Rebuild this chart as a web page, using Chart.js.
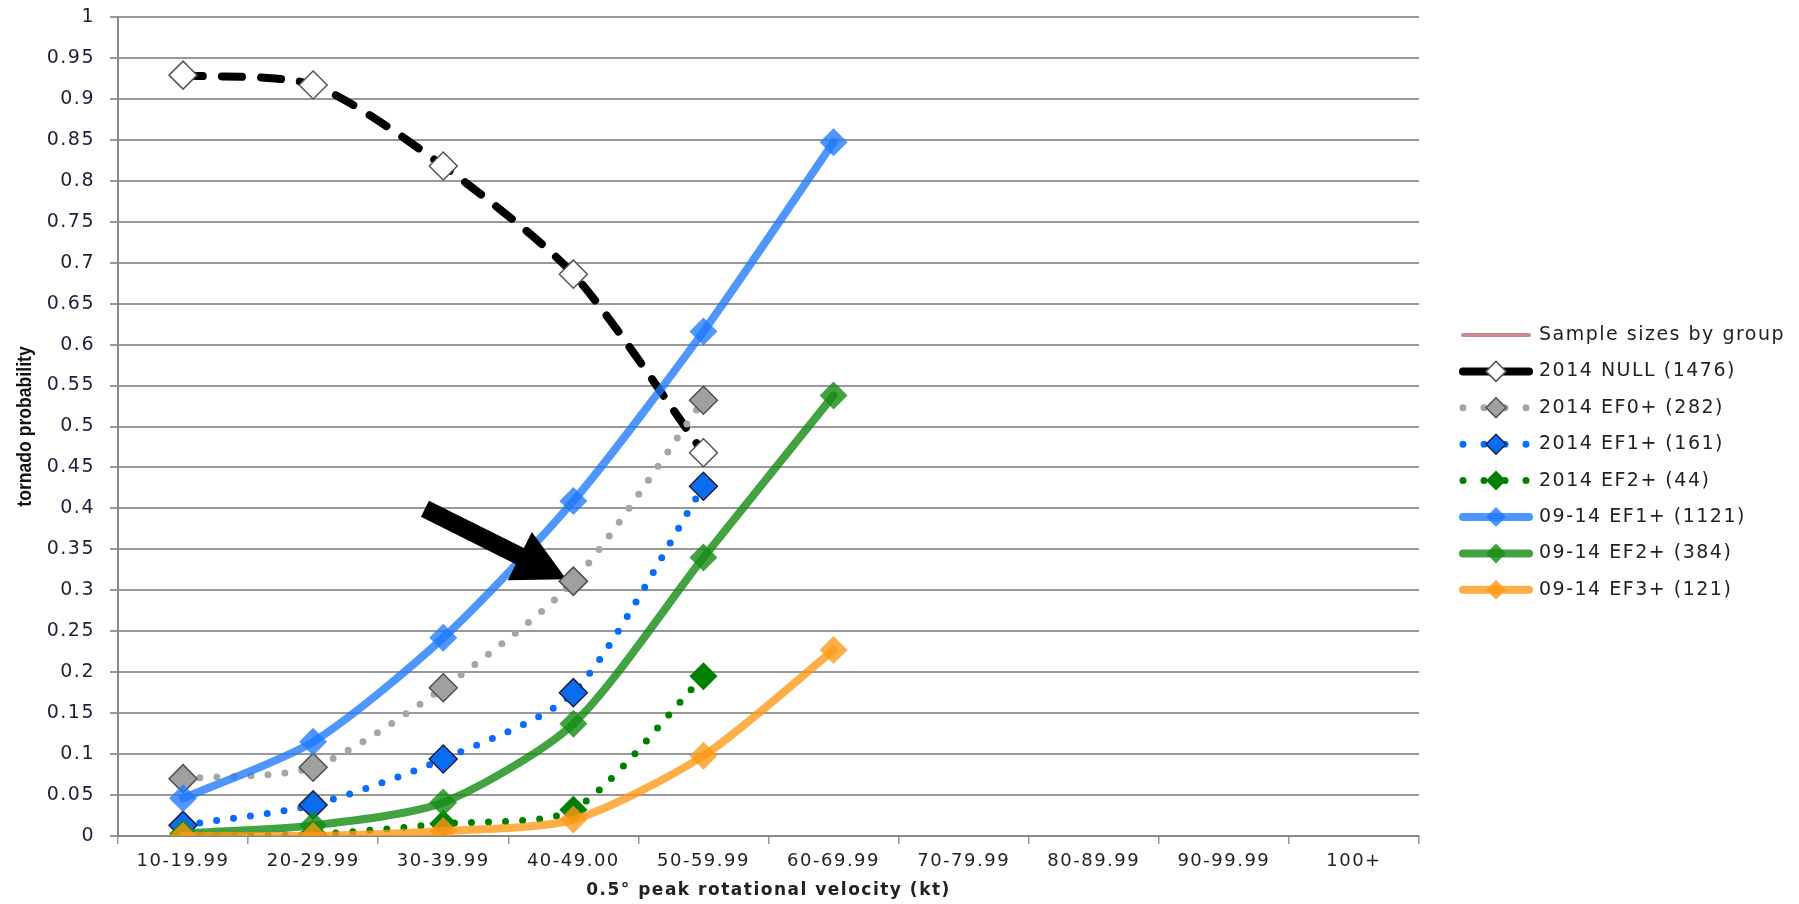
<!DOCTYPE html>
<html>
<head>
<meta charset="utf-8">
<script src="https://cdn.jsdelivr.net/npm/chart.js@4/dist/chart.umd.min.js"></script>
<style>
html, body { margin: 0; background: #fff; }
#wrap { width: 1799px; height: 904px; }
</style>
</head>
<body>
<div id="wrap"><canvas id="tornado"></canvas></div>
<script>
// velocity bins on the x axis
var categories = ['10-19.99', '20-29.99', '30-39.99', '40-49.00', '50-59.99',
                  '60-69.99', '70-79.99', '80-89.99', '90-99.99', '100+'];

// tornado probability per bin
var sampleSizes = [];
var null2014 = [0.929, 0.917, 0.818, 0.686, 0.468];
var ef0_2014 = [0.070, 0.084, 0.181, 0.311, 0.532];
var ef1_2014 = [0.013, 0.038, 0.094, 0.175, 0.427];
var ef2_2014 = [0.001, 0.002, 0.015, 0.032, 0.195];
var ef1_0914 = [0.046, 0.115, 0.242, 0.409, 0.616, 0.847];
var ef2_0914 = [0.003, 0.013, 0.041, 0.137, 0.340, 0.538];
var ef3_0914 = [0.000, 0.000, 0.006, 0.020, 0.098, 0.227];

var labels = ['Sample sizes by group', '2014 NULL (1476)', '2014 EF0+ (282)', '2014 EF1+ (161)',
              '2014 EF2+ (44)', '09-14 EF1+ (1121)', '09-14 EF2+ (384)', '09-14 EF3+ (121)'];

var dotted = [0, 17];

function series(label, data, line, width, dash, fill, border, radius) {
    return {
        label: label,
        data: data,
        borderColor: line,
        borderWidth: width,
        borderDash: dash,
        borderCapStyle: 'round',
        borderJoinStyle: 'round',
        tension: 0.25,
        pointStyle: 'rectRot',
        pointRadius: radius,
        pointBackgroundColor: fill,
        pointBorderColor: border,
        pointBorderWidth: border ? 1.5 : 0
    };
}

var datasets = [
    series(labels[0], sampleSizes, '#c98a90', 4, [], null, null, 0),
    series(labels[1], null2014, '#000000', 8, [20, 19], '#ffffff', '#555555', 14),
    series(labels[2], ef0_2014, '#a6a6a6', 7, dotted, '#a0a0a0', '#505050', 14),
    series(labels[3], ef1_2014, '#0a6cff', 7, dotted, '#0a6cf0', '#202040', 14),
    series(labels[4], ef2_2014, '#008000', 7, dotted, '#008000', null, 14),
    series(labels[5], ef1_0914, 'rgba(30,120,255,0.78)', 8, [], 'rgba(30,120,255,0.78)', null, 14),
    series(labels[6], ef2_0914, 'rgba(20,140,20,0.8)', 8, [], 'rgba(20,140,20,0.8)', null, 14),
    series(labels[7], ef3_0914, 'rgba(255,152,20,0.78)', 8, [], 'rgba(255,152,20,0.78)', null, 14)
];
// later series sit on top, like the spreadsheet
datasets.forEach(function(d, i) { d.order = datasets.length - i; });

function diamond(ctx, x, y, r) {
    ctx.beginPath();
    ctx.moveTo(x - r, y);
    ctx.lineTo(x, y - r);
    ctx.lineTo(x + r, y);
    ctx.lineTo(x, y + r);
    ctx.closePath();
}

// the spreadsheet fonts are wider than DejaVu, so space the letters out a little
var spacing = {
    id: 'spacing',
    beforeDraw: function(chart) { chart.ctx.letterSpacing = '1.5px'; }
};

var sideLegend = {
    id: 'sideLegend',
    afterDraw: function(chart) {
        var ctx = chart.ctx;
        var x0 = chart.chartArea.right + 41;
        var y0 = 335, rowH = 36.4, len = 72;
        chart.data.datasets.forEach(function(ds, i) {
            var y = y0 + i * rowH;
            var isDotted = ds.borderDash.length && ds.borderDash[0] === 0;
            ctx.save();
            ctx.strokeStyle = ds.borderColor;
            ctx.lineWidth = ds.borderWidth;
            ctx.lineCap = 'round';
            ctx.setLineDash(isDotted ? [0, 21] : []);
            ctx.beginPath();
            ctx.moveTo(x0 + 3, y);
            ctx.lineTo(x0 + len - 3, y);
            ctx.stroke();
            if (ds.pointRadius > 0) {
                ctx.setLineDash([]);
                diamond(ctx, x0 + len / 2, y, 10);
                ctx.fillStyle = ds.pointBackgroundColor;
                ctx.fill();
                if (ds.pointBorderColor) {
                    ctx.lineWidth = 1.5;
                    ctx.strokeStyle = ds.pointBorderColor;
                    ctx.stroke();
                }
            }
            ctx.fillStyle = '#222';
            ctx.letterSpacing = '1.5px';
            ctx.font = '19px "DejaVu Sans"';
            ctx.textBaseline = 'middle';
            ctx.fillText(ds.label, x0 + len + 7, y);
            ctx.restore();
        });

        // y axis title, narrow bold
        var area = chart.chartArea;
        ctx.save();
        ctx.translate(25, (area.top + area.bottom) / 2);
        ctx.rotate(-Math.PI / 2);
        ctx.scale(0.88, 1);
        ctx.letterSpacing = '0px';
        ctx.font = 'bold 20px "Liberation Sans", Arial, sans-serif';
        ctx.fillStyle = '#111';
        ctx.textAlign = 'center';
        ctx.textBaseline = 'middle';
        ctx.fillText('tornado probability', 0, 0);
        ctx.restore();
    }
};

// black call-out arrow pointing at the 2014 EF0+ point in the 40-49 bin
var arrow = {
    id: 'arrow',
    afterDatasetsDraw: function(chart) {
        var meta = chart.getDatasetMeta(2);
        var pt = meta.data[3];
        if (!pt) return;
        var ctx = chart.ctx;
        var a = 26.5 * Math.PI / 180;
        ctx.save();
        ctx.translate(pt.x - 7, pt.y - 2);
        ctx.rotate(a);
        ctx.beginPath();
        ctx.moveTo(0, 0);
        ctx.lineTo(-52, -27);
        ctx.lineTo(-52, -9);
        ctx.lineTo(-158, -9);
        ctx.lineTo(-158, 9);
        ctx.lineTo(-52, 9);
        ctx.lineTo(-52, 27);
        ctx.closePath();
        ctx.fillStyle = '#000';
        ctx.fill();
        ctx.restore();
        pt.draw(ctx, chart.chartArea);
    }
};

var ctx = document.getElementById('tornado').getContext('2d');
var chart = new Chart(ctx, {
    type: 'line',
    data: { labels: categories, datasets: datasets },
    options: {
        responsive: true,
        maintainAspectRatio: false,
        animation: false,
        layout: { padding: { top: 17, right: 380, bottom: 0, left: 0 } },
        plugins: { legend: { display: false }, tooltip: { enabled: false } },
        scales: {
            x: {
                offset: true,
                grid: { offset: true, drawOnChartArea: false, drawTicks: true, tickLength: 8, color: '#999', lineWidth: 1.5 },
                border: { color: '#888', width: 2 },
                ticks: { color: '#222', font: { family: 'DejaVu Sans', size: 18 }, padding: 7, maxRotation: 0, autoSkip: false },
                title: { display: true, text: '0.5° peak rotational velocity (kt)', color: '#222',
                         font: { family: 'DejaVu Sans', size: 17, weight: 'bold' }, padding: { top: 0, bottom: 3 } },
                afterFit: function(s) { s.height = 68; s.paddingLeft = 0; s.paddingRight = 0; }
            },
            y: {
                min: 0,
                max: 1,
                grid: { color: '#999', lineWidth: 2, tickLength: 8 },
                border: { color: '#888', width: 2 },
                ticks: { stepSize: 0.05, color: '#1f1f3a', padding: 15, font: { family: 'DejaVu Sans', size: 19 },
                         callback: function(v) { return String(+v.toFixed(2)); } },
                afterFit: function(s) { s.width = 118; s.paddingTop = 0; s.paddingBottom = 0; }
            }
        }
    },
    plugins: [spacing, arrow, sideLegend]
});
</script>
</body>
</html>
